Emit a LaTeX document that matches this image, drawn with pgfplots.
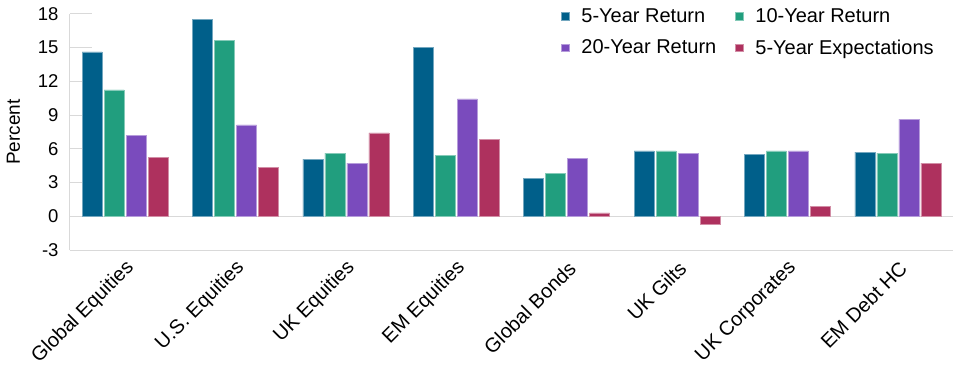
\documentclass[border=0pt]{standalone}
\usepackage{pgfplots}
\pgfplotsset{compat=1.18}
\usepackage{fontspec}
\setmainfont{Liberation Sans}
\definecolor{cA}{HTML}{005F8A}
\definecolor{cB}{HTML}{219E7E}
\definecolor{cC}{HTML}{7A4BBD}
\definecolor{cD}{HTML}{AE315E}
\definecolor{gridc}{HTML}{D9D9D9}
\begin{document}
\begin{tikzpicture}
\begin{axis}[
  set layers,
  scale only axis, width=883pt, height=236pt,
  xmin=-0.5, xmax=7.5, ymin=-3, ymax=18,
  ytick={-3,0,3,6,9,12,15,18},
  xtick={0,1,2,3,4,5,6,7},
  xticklabels={Global Equities,U.S. Equities,UK Equities,EM Equities,Global Bonds,UK Gilts,UK Corporates,EM Debt HC},
  x tick label style={rotate=45, anchor=east, font=\fontsize{20}{22}\selectfont, inner sep=1pt, xshift=10pt, yshift=1pt},
  y tick label style={font=\fontsize{18.5}{20}\selectfont, /pgf/number format/assume math mode=true, xshift=-8pt},
  major x tick style={draw=none},
  axis x line*=bottom, axis y line*=left,
  axis line style={draw=gridc, line width=1pt},
  ytick style={draw=gridc, line width=1pt},
  major tick length=22pt, tick align=inside,
  extra y ticks={0}, extra y tick labels={},
  extra y tick style={grid=major, major grid style={draw=gridc, line width=1pt}, major tick length=0pt},
  ylabel={Percent},
  ylabel shift=11pt,
  ylabel style={font=\fontsize{19}{20}\selectfont},
  ybar, bar width=19.9pt,
  legend columns=2,
  legend cell align=left,
  legend style={draw=none, fill=none, at={(rel axis cs:0.984,1.042)}, anchor=north east,
    font=\fontsize{20}{22}\selectfont, row sep=12pt,
    /tikz/every odd column/.append style={column sep=10pt},
    /tikz/every even column/.append style={column sep=17pt}},
  legend image code/.code={\fill[#1] (0pt,-3.8pt) rectangle (7.6pt,3.8pt);},
]
\addplot[fill=cA, draw=cA!55!white, line width=0.5pt, bar shift=-33pt] coordinates {(0,14.64) (1,17.54) (2,5.09) (3,15.03) (4,3.40) (5,5.83) (6,5.53) (7,5.71)};
\addlegendentry{5-Year Return}
\addplot[fill=cB, draw=cB!55!white, line width=0.5pt, bar shift=-11pt] coordinates {(0,11.24) (1,15.68) (2,5.62) (3,5.44) (4,3.82) (5,5.83) (6,5.83) (7,5.62)};
\addlegendentry{10-Year Return}
\addplot[fill=cC, draw=cC!55!white, line width=0.5pt, bar shift=11pt] coordinates {(0,7.22) (1,8.14) (2,4.73) (3,10.44) (4,5.12) (5,5.62) (6,5.83) (7,8.64)};
\addlegendentry{20-Year Return}
\addplot[fill=cD, draw=cD!55!white, line width=0.5pt, bar shift=33pt] coordinates {(0,5.24) (1,4.32) (2,7.43) (3,6.83) (4,0.30) (5,-0.68) (6,0.89) (7,4.73)};
\addlegendentry{5-Year Expectations}
\end{axis}
\pgfresetboundingbox
\path (-70pt,-117pt) rectangle (890pt,250pt);
\end{tikzpicture}
\end{document}
